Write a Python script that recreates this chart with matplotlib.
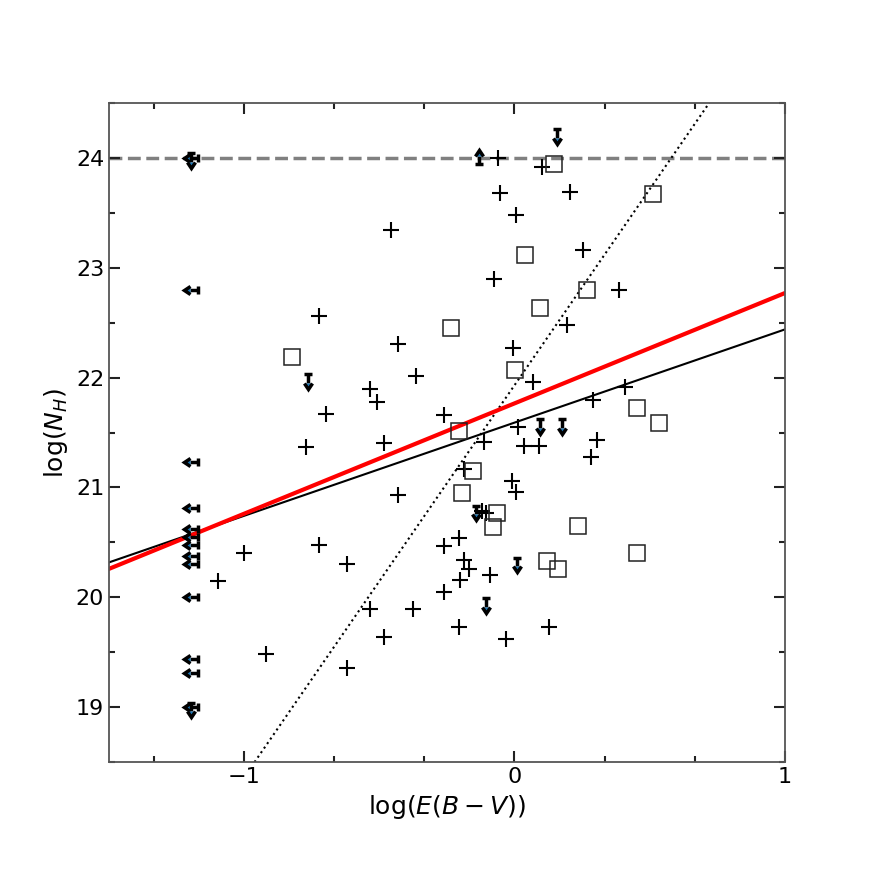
import matplotlib
matplotlib.use("Agg")
import matplotlib.pyplot as plt
from matplotlib.ticker import MultipleLocator
import numpy as np

plt.rcParams["font.size"] = 16

# detections (plus signs)
det_x = [-0.456, -0.722, -0.431, -0.366, -0.536, -0.509, -0.697,
         -0.06, 0.103, -0.054, 0.204, 0.006, 0.253, -0.074, 0.386, 0.195,
         -0.006, 0.068, 0.407, 0.29, -0.259, 0.014, -0.114, 0.034, 0.09,
         0.306, 0.284, -0.188, -0.009, 0.007, -0.12, -0.107, -0.206, -0.259,
         -0.188, -0.168, -0.2, -0.089, -0.259, -0.206, 0.128, -0.031,
         -0.771, -0.481, -0.431, -0.722, -0.62, -1.0, -1.097, -0.536,
         -0.377, -0.481, -0.92, -0.62]
det_y = [23.34, 22.56, 22.31, 22.01, 21.90, 21.78, 21.67,
         24.0, 23.92, 23.68, 23.69, 23.48, 23.16, 22.90, 22.80, 22.48,
         22.27, 21.96, 21.91, 21.80, 21.66, 21.55, 21.41, 21.38, 21.38,
         21.43, 21.28, 21.17, 21.06, 20.96, 20.79, 20.77, 20.54, 20.47,
         20.34, 20.26, 20.16, 20.20, 20.05, 19.73, 19.73, 19.62,
         21.37, 21.40, 20.93, 20.48, 20.30, 20.40, 20.15, 19.89,
         19.89, 19.64, 19.48, 19.36]

# second sample (open squares)
sq_x = [-0.823, 0.146, 0.514, 0.04, 0.269, 0.096, -0.235, 0.003, 0.454,
        0.533, -0.205, -0.154, -0.193, -0.064, -0.08, 0.234, 0.119, 0.16, 0.454]
sq_y = [22.19, 23.94, 23.67, 23.12, 22.80, 22.63, 22.45, 22.07, 21.72,
        21.59, 21.51, 21.15, 20.95, 20.77, 20.64, 20.65, 20.33, 20.26, 20.40]

# E(B-V) upper limits (left arrows)
xul_x = [-1.172] * 13
xul_y = [24.0, 22.80, 21.23, 20.81, 20.62, 20.55, 20.48, 20.38, 20.30,
         20.00, 19.44, 19.31, 19.0]

# N_H upper limits (down arrows)
yul_x = [0.158, -0.763, 0.093, 0.175, -0.144, 0.01, -0.104, -1.195, -1.195]
yul_y = [24.26, 22.03, 21.62, 21.62, 20.83, 20.36, 19.99, 24.04, 19.04]

# N_H lower limit (up arrow)
yll_x = [-0.13]
yll_y = [23.94]

# fitted relations: (intercept, slope)
fit_red = (21.765, 1.004)
fit_black = (21.59, 0.848)
fit_dotted = (21.93, 3.567)
nh_cap = 24.0

fig = plt.figure(figsize=(8.72, 8.72), dpi=100)
ax = fig.add_axes([0.125, 0.126, 0.775, 0.756])

ax.axhline(nh_cap, color="#808080", linestyle="--", linewidth=2.5, zorder=1)
ax.axline((0, fit_dotted[0]), slope=fit_dotted[1], color="black", linestyle=":", linewidth=1.5)
ax.axline((0, fit_black[0]), slope=fit_black[1], color="black", linewidth=1.5)
ax.axline((0, fit_red[0]), slope=fit_red[1], color="red", linewidth=3)

ax.plot(det_x, det_y, "+", color="black", markersize=11, markeredgewidth=1.5)
ax.plot(sq_x, sq_y, "s", markerfacecolor="none", markeredgecolor="#222222",
        markersize=11, markeredgewidth=1.1)

eb = dict(fmt="none", ecolor="black", elinewidth=2.5, capsize=3, capthick=2.5)
ax.errorbar(xul_x, xul_y, xerr=0.03, xuplims=True, **eb)
ax.errorbar(yul_x, yul_y, yerr=0.075, uplims=True, **eb)
ax.errorbar(yll_x, yll_y, yerr=0.08, lolims=True, **eb)

ax.set_xlim(-1.5, 1.0)
ax.set_ylim(18.5, 24.5)
ax.xaxis.set_major_locator(MultipleLocator(1))
ax.xaxis.set_minor_locator(MultipleLocator(1 / 3))
ax.yaxis.set_major_locator(MultipleLocator(1))
ax.yaxis.set_minor_locator(MultipleLocator(0.5))
ax.tick_params(which="both", direction="in", top=True, right=True, width=1.5, color="#222222")
ax.tick_params(which="major", length=8)
ax.tick_params(which="minor", length=4)
for s in ax.spines.values():
    s.set_color("#555555")
    s.set_linewidth(1.3)

ax.set_xlabel(r"log($E(B-V)$)", fontsize=18)
ax.set_ylabel(r"log($N_H$)", fontsize=18)

plt.savefig("out.png", dpi=100)
